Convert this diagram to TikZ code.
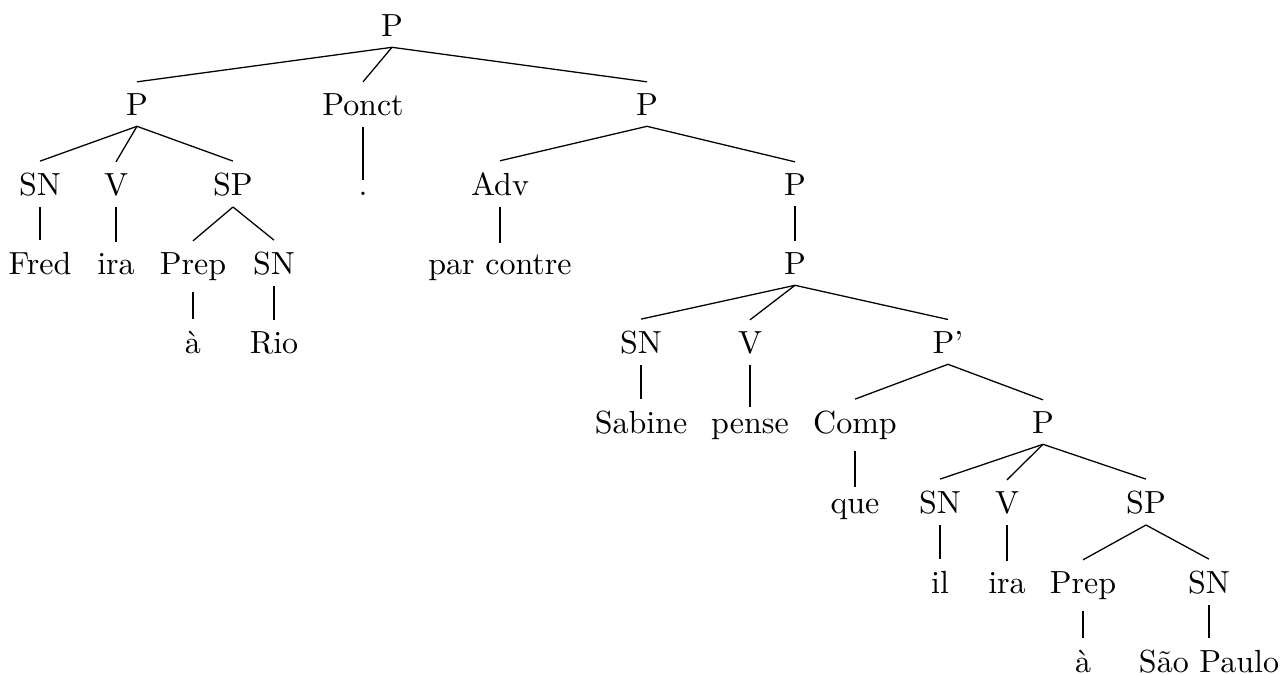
\documentclass[tikz,border=0pt]{standalone}
\usepackage{fontspec}
\usepackage{tikz}
\tikzset{
  cat/.style   ={anchor=base},
  branch/.style={line width=0.4pt,draw=black}
}
\begin{document}
\begin{tikzpicture}[x=0.3125pt,y=-0.3125pt]
    \useasboundingbox (0,0) rectangle (1280,675);
    % root and first split
    \node[cat] (root)  at (392,36)   {P};
    \node[cat] (pa)    at (137,115)  {P};
    \node[cat] (ponct) at (363,115)  {Ponct};
    \node[cat] (pb)    at (647,115)  {P};
    % left clause: Fred ira a Rio
    \node[cat] (sna)   at (40,195)   {SN};
    \node[cat] (va)    at (116,195)  {V};
    \node[cat] (spa)   at (233,195)  {SP};
    \node[cat] (fred)  at (40,274)   {Fred};
    \node[cat] (iraa)  at (116,274)  {ira};
    \node[cat] (prepa) at (193,274)  {Prep};
    \node[cat] (snb)   at (274,274)  {SN};
    \node[cat] (aa)    at (193,353)  {à};
    \node[cat] (rio)   at (274,353)  {Rio};
    % punctuation
    \node[cat] (dot)   at (363,195)  {.};
    % right clause
    \node[cat] (adv)   at (500,195)  {Adv};
    \node[cat] (pc)    at (795,195)  {P};
    \node[cat] (parc)  at (500,274)  {par contre};
    \node[cat] (pd)    at (795,274)  {P};
    \node[cat] (snc)   at (641,353)  {SN};
    \node[cat] (vb)    at (750,353)  {V};
    \node[cat] (pq)    at (948,353)  {P’};
    \node[cat] (sab)   at (641,433)  {Sabine};
    \node[cat] (pense) at (750,433)  {pense};
    \node[cat] (comp)  at (855,433)  {Comp};
    \node[cat] (pe)    at (1043,433) {P};
    % embedded clause: que il ira a Sao Paulo
    \node[cat] (que)   at (855,513)  {que};
    \node[cat] (snd)   at (940,513)  {SN};
    \node[cat] (vc)    at (1007,513) {V};
    \node[cat] (spb)   at (1146,513) {SP};
    \node[cat] (il)    at (940,593)  {il};
    \node[cat] (irab)  at (1007,593) {ira};
    \node[cat] (prepb) at (1083,593) {Prep};
    \node[cat] (sne)   at (1209,593) {SN};
    \node[cat] (ab)    at (1083,672) {à};
    \node[cat] (sao)   at (1209,672) {São Paulo};
    % branches
    \foreach \up/\down in {root/pa,root/ponct,root/pb,
                           pa/sna,pa/va,pa/spa,sna/fred,va/iraa,
                           spa/prepa,spa/snb,prepa/aa,snb/rio,ponct/dot,
                           pb/adv,pb/pc,adv/parc,pc/pd,
                           pd/snc,pd/vb,pd/pq,snc/sab,vb/pense,
                           pq/comp,pq/pe,comp/que,
                           pe/snd,pe/vc,pe/spb,snd/il,vc/irab,
                           spb/prepb,spb/sne,prepb/ab,sne/sao}
      \draw[branch] (\up.south) -- (\down.north);
  \end{tikzpicture}
\end{document}
